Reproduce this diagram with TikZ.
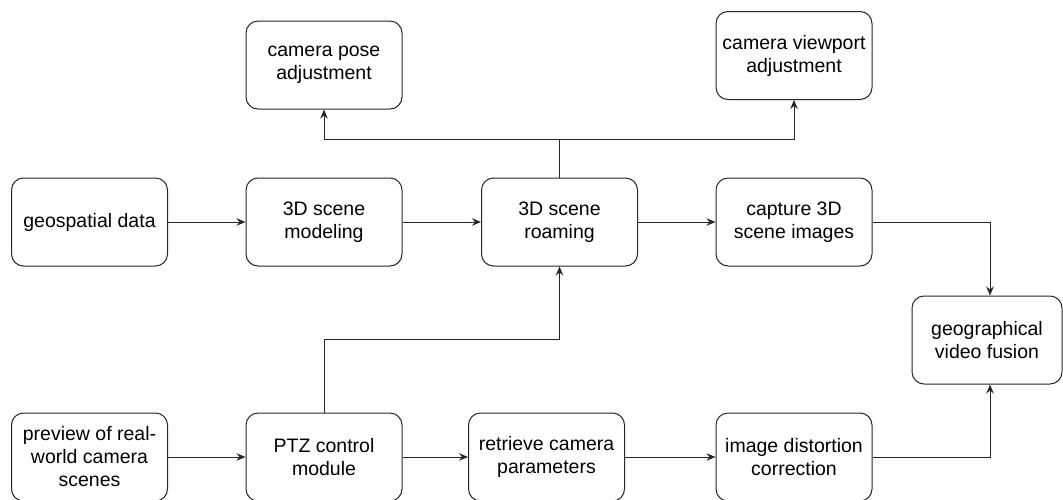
\documentclass[tikz,border=0pt]{standalone}
\usepackage{fontspec}
\setmainfont{Liberation Sans}
\usetikzlibrary{arrows.meta}

\tikzset{
  box/.style={draw=black!85, line width=1pt, rectangle, rounded corners=12pt,
    minimum width=156pt, minimum height=88pt, inner sep=0pt, align=center,
    font=\fontsize{19.5}{23}\selectfont},
  link/.style={draw=black!85, line width=1pt},
  arr/.style={link, -{Stealth[length=9pt,width=7.5pt,inset=3pt]}}
}

\begin{document}
\begin{tikzpicture}[x=1pt, y=-1pt]
  \useasboundingbox (0,0) rectangle (1063,499);

  % upper row: adjustment boxes
  \node[box] (pose) at (324,65) {camera pose\\adjustment};
  \node[box] (viewport) at (794,55.5) {camera viewport\\adjustment};

  % middle row: scene pipeline
  \node[box] (geo) at (89.5,222) {geospatial data};
  \node[box] (model) at (324,222) {3D scene\\modeling};
  \node[box] (roam) at (559.5,222) {3D scene\\roaming};
  \node[box] (capture) at (794,222) {capture 3D\\scene images};

  % fusion box on the right
  \node[box, minimum width=150pt] (fusion) at (987,340) {geographical\\video fusion};

  % lower row: camera pipeline
  \node[box] (preview) at (89.5,457) {preview of real-\\world camera\\scenes};
  \node[box] (ptz) at (324,457) {PTZ control\\module};
  \node[box] (retrieve) at (546.5,457) {retrieve camera\\parameters};
  \node[box] (distort) at (794,457) {image distortion\\correction};

  % branch points
  \coordinate (split) at (559.5,139);
  \coordinate (ptzup) at (324,339);

  % middle row flow
  \draw[arr] (geo) -- (model);
  \draw[arr] (model) -- (roam);
  \draw[arr] (roam) -- (capture);

  % roaming drives both adjustments
  \draw[link] (roam.north) -- (split);
  \draw[arr] (split) -| (pose.south);
  \draw[arr] (split) -| (viewport.south);

  % PTZ control feeds roaming
  \draw[arr] (ptz.north) -- (ptzup) -| (roam.south);

  % lower row flow
  \draw[arr] (preview) -- (ptz);
  \draw[arr] (ptz) -- (retrieve);
  \draw[arr] (retrieve) -- (distort);

  % both branches merge into fusion
  \draw[arr] (capture.east) -| ([xshift=3pt]fusion.north);
  \draw[arr] (distort.east) -| ([xshift=3pt]fusion.south);
\end{tikzpicture}
\end{document}
